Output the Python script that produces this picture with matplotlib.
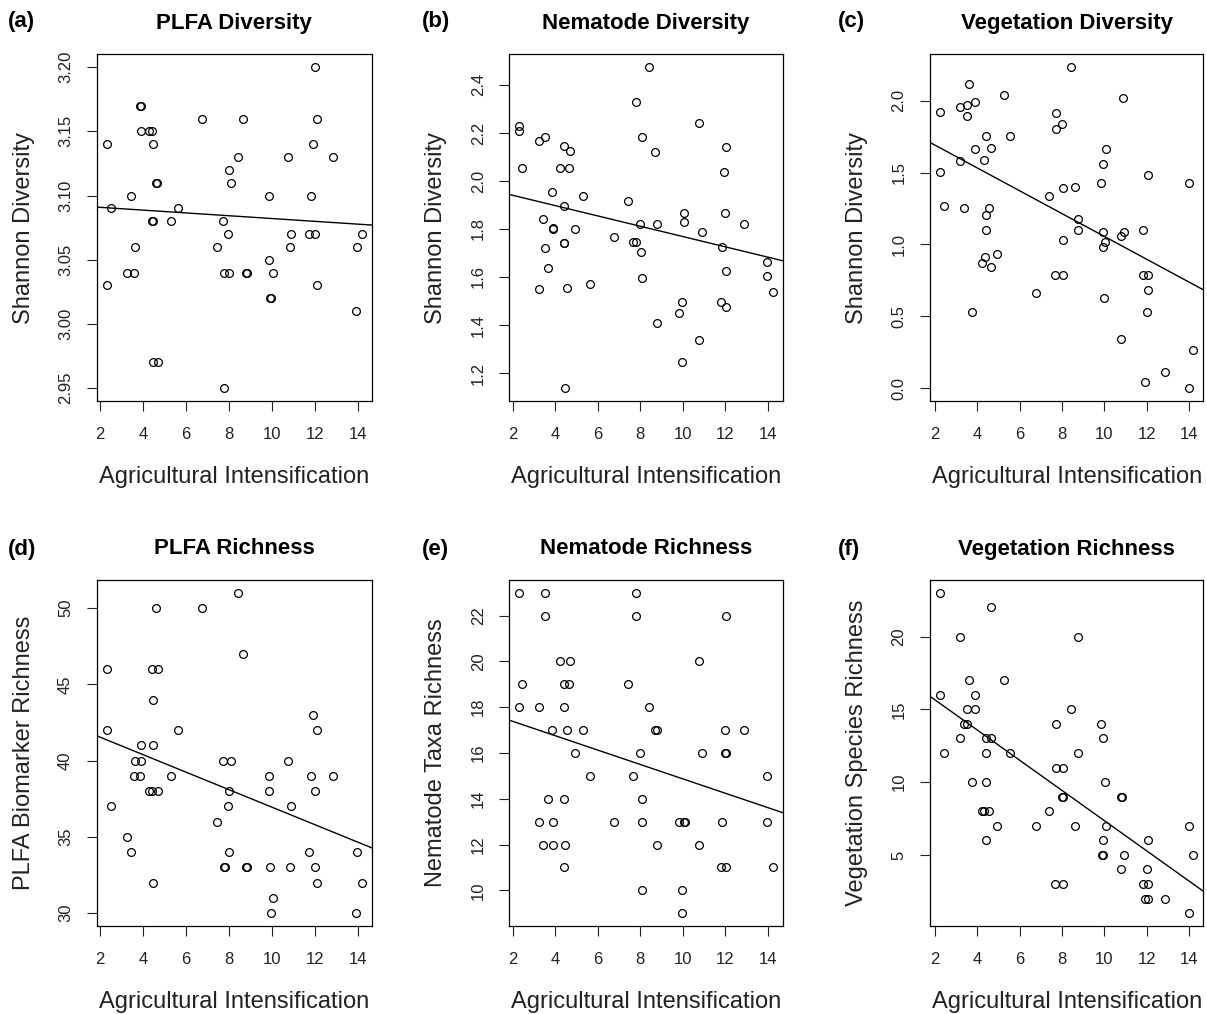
import matplotlib
matplotlib.use("Agg")
import matplotlib.pyplot as plt

plt.rcParams['font.family'] = ['Liberation Sans', 'DejaVu Sans']

# (a) PLFA diversity
plfa_div_x = [2.31, 2.31, 2.52, 3.45, 3.25, 3.59, 3.64, 3.86, 3.90, 3.92, 4.27, 4.42, 4.47,
              4.40, 4.44, 4.61, 4.65, 4.45, 4.67, 5.30, 5.63, 6.75, 7.45, 7.70, 7.78, 8.02,
              7.78, 7.95, 8.02, 8.09, 8.41, 8.66, 8.78, 8.82, 9.86, 9.86, 9.93, 9.95, 10.06,
              10.77, 10.83, 10.89, 11.75, 11.84, 11.91, 12.02, 12.02, 12.08, 12.08, 12.83,
              13.92, 13.98, 14.19]
plfa_div_y = [3.14, 3.03, 3.09, 3.10, 3.04, 3.04, 3.06, 3.17, 3.17, 3.15, 3.15, 3.15, 3.14,
              3.08, 3.08, 3.11, 3.11, 2.97, 2.97, 3.08, 3.09, 3.16, 3.06, 3.08, 3.04, 3.04,
              2.95, 3.07, 3.12, 3.11, 3.13, 3.16, 3.04, 3.04, 3.10, 3.05, 3.02, 3.02, 3.04,
              3.13, 3.06, 3.07, 3.07, 3.10, 3.14, 3.20, 3.07, 3.16, 3.03, 3.13,
              3.01, 3.06, 3.07]

# (b) nematode diversity
nem_div_x = [2.31, 2.31, 2.44, 3.21, 3.52, 3.21, 3.40, 3.52, 3.65, 3.84, 3.88, 3.89, 4.21,
             4.40, 4.67, 4.65, 4.42, 4.41, 4.43, 4.54, 4.47, 4.94, 5.30, 5.63, 6.76, 7.40,
             7.65, 7.81, 7.80, 7.98, 8.05, 8.06, 8.06, 8.42, 8.68, 8.80, 8.80, 9.84, 9.96,
             9.96, 10.07, 10.07, 10.78, 10.78, 10.91, 11.82, 11.85, 11.93, 12.00, 12.05,
             12.05, 12.05, 12.88, 13.95, 13.95, 14.24]
nem_div_y = [2.230, 2.206, 2.052, 2.168, 2.181, 1.551, 1.840, 1.719, 1.638, 1.956, 1.806, 1.800,
             2.052, 2.147, 2.126, 2.052, 1.896, 1.740, 1.740, 1.555, 1.137, 1.801, 1.936, 1.569,
             1.768, 1.917, 1.746, 1.746, 2.330, 1.822, 1.705, 2.181, 1.597, 2.474, 2.119,
             1.822, 1.409, 1.448, 1.495, 1.244, 1.868, 1.829, 2.241, 1.339, 1.789, 1.495,
             1.726, 2.038, 1.868, 2.140, 1.625, 1.476, 1.822, 1.664, 1.604, 1.537]

# (c) vegetation diversity
veg_div_x = [2.24, 2.24, 2.43, 3.18, 3.18, 3.39, 3.50, 3.50, 3.59, 3.76, 3.89, 3.89, 4.20,
             4.33, 4.36, 4.39, 4.39, 4.39, 4.54, 4.66, 4.66, 4.93, 5.24, 5.56, 6.77, 7.40,
             7.72, 7.72, 7.67, 8.00, 8.05, 8.05, 8.06, 8.44, 8.61, 8.76, 8.76, 9.84, 9.91,
             9.91, 9.95, 10.02, 9.97, 10.09, 10.79, 10.90, 10.87, 10.79, 11.81, 11.81, 11.91,
             12.08, 12.08, 12.08, 12.02, 12.85, 14.00, 14.00, 14.19]
veg_div_y = [1.923, 1.503, 1.266, 1.958, 1.580, 1.254, 1.970, 1.890, 2.117, 0.527, 1.993, 1.662,
             0.869, 1.585, 0.911, 1.755, 1.207, 1.098, 1.254, 1.674, 0.846, 0.935, 2.037, 1.755,
             0.664, 1.336, 1.914, 1.802, 0.788, 1.835, 1.389, 1.028, 0.788, 2.233, 1.401,
             1.177, 1.098, 1.424, 1.559, 1.086, 0.981, 1.016, 0.629, 1.662, 1.061, 1.086,
             2.016, 0.345, 1.098, 0.788, 0.040, 1.480, 0.788, 0.685, 0.527, 0.110, 1.424,
             0.0, 0.266]

# (d) PLFA richness
plfa_rich_x = [2.31, 2.31, 2.52, 3.27, 3.45, 3.59, 3.64, 3.84, 3.92, 3.92, 4.27, 4.42, 4.67,
               4.42, 4.69, 4.47, 4.47, 4.59, 4.47, 5.30, 5.63, 6.75, 7.45, 7.70, 7.76, 7.80,
               8.02, 7.95, 8.02, 8.09, 8.41, 8.66, 8.78, 8.82, 9.86, 9.86, 9.92, 9.94, 10.06,
               10.77, 10.83, 10.89, 11.75, 11.84, 11.91, 12.02, 12.02, 12.08, 12.08, 12.83,
               13.92, 13.98, 14.19]
plfa_rich_y = [46, 42, 37, 35, 34, 39, 40, 39, 40, 41, 38, 38, 38,
               46, 46, 44, 41, 50, 32, 39, 42, 50, 36, 40, 33, 33,
               34, 37, 38, 40, 51, 47, 33, 33, 39, 38, 33, 30, 31,
               40, 33, 37, 34, 39, 43, 38, 33, 42, 32, 39,
               30, 34, 32]

# (e) nematode richness
nem_rich_x = [2.31, 2.31, 2.44, 3.21, 3.21, 3.40, 3.52, 3.52, 3.65, 3.84, 3.88, 3.88, 4.21,
              4.40, 4.67, 4.65, 4.42, 4.42, 4.47, 4.42, 4.54, 4.94, 5.30, 5.63, 6.76, 7.40,
              7.65, 7.80, 7.80, 7.98, 8.06, 8.06, 8.06, 8.42, 8.68, 8.80, 8.80, 9.84, 9.96,
              9.96, 10.05, 10.09, 10.78, 10.78, 10.91, 11.82, 11.85, 12.00, 12.00, 12.05,
              12.05, 12.05, 12.88, 13.95, 13.95, 14.24]
nem_rich_y = [23, 18, 19, 18, 13, 12, 23, 22, 14, 17, 13, 12, 20,
              19, 20, 19, 18, 14, 12, 11, 17, 16, 17, 15, 13, 19,
              15, 23, 22, 16, 14, 13, 10, 18, 17, 17, 12, 13, 10,
              9, 13, 13, 20, 12, 16, 11, 13, 17, 16, 16,
              22, 11, 17, 15, 13, 11]

# (f) vegetation richness
veg_rich_x = [2.24, 2.24, 2.43, 3.18, 3.18, 3.39, 3.50, 3.50, 3.59, 3.76, 3.89, 3.89, 4.20,
              4.33, 4.54, 4.39, 4.39, 4.39, 4.39, 4.66, 4.66, 4.93, 5.24, 5.56, 6.77, 7.40,
              7.72, 7.72, 7.67, 7.98, 8.02, 8.05, 8.06, 8.44, 8.61, 8.76, 8.76, 9.84, 9.91,
              9.90, 9.93, 9.95, 10.02, 10.09, 10.77, 10.81, 10.90, 10.79, 11.81, 11.91, 12.08,
              12.08, 12.02, 12.08, 12.85, 14.00, 14.00, 14.19]
veg_rich_y = [23, 16, 12, 20, 13, 14, 15, 14, 17, 10, 16, 15, 8,
              8, 8, 13, 12, 10, 6, 13, 22, 7, 17, 12, 7, 8,
              14, 11, 3, 9, 9, 11, 3, 15, 7, 20, 12, 14, 13,
              5, 5, 6, 10, 7, 9, 9, 5, 4, 3, 2, 6,
              3, 4, 2, 2, 7, 1, 5]

# fitted lines (intercept, slope)
fit_plfa_div = (3.093, -0.00109)
fit_nem_div = (1.983, -0.02145)
fit_veg_div = (1.849, -0.0794)
fit_plfa_rich = (42.68, -0.573)
fit_nem_rich = (18.01, -0.314)
fit_veg_rich = (17.72, -1.037)

x_ticks = [2, 4, 6, 8, 10, 12, 14]
plfa_div_ticks = [2.95, 3.00, 3.05, 3.10, 3.15, 3.20]
nem_div_ticks = [1.2, 1.4, 1.6, 1.8, 2.0, 2.2, 2.4]
veg_div_ticks = [0.0, 0.5, 1.0, 1.5, 2.0]
plfa_rich_ticks = [30, 35, 40, 45, 50]
nem_rich_ticks = [10, 12, 14, 16, 18, 20, 22]
veg_rich_ticks = [5, 10, 15, 20]

W, H = 1207, 1014
fig = plt.figure(figsize=(W / 100, H / 100), dpi=100)


def r_lim(vals):
    lo, hi = min(vals), max(vals)
    d = (hi - lo) * 0.04
    return lo - d, hi + d


def panel(box, letter, title, ylabel, xs, ys, fit, yticks, yfmt):
    left, top, right, bottom = box
    ax = fig.add_axes([left / W, 1 - bottom / H, (right - left) / W, (bottom - top) / H])
    ax.plot(xs, ys, 'o', mfc='none', mec='black', ms=5.6, mew=0.9, ls='none')
    ax.axline((0, fit[0]), slope=fit[1], color='black', lw=1.0)
    ax.set_xlim(r_lim(xs))
    ax.set_ylim(r_lim(ys))
    ax.set_xticks(x_ticks)
    ax.set_yticks(yticks)
    ax.set_yticklabels([yfmt.format(v) for v in yticks], rotation=90, va='center')
    ax.tick_params(direction='out', length=7, width=0.8, labelsize=12, pad=10, colors='#222222')
    ax.tick_params(axis='x', pad=12)
    for s in ax.spines.values():
        s.set_linewidth(0.9)
    ax.annotate('Agricultural Intensification', xy=(0.5, 0), xycoords='axes fraction',
                xytext=(0, -76 * 0.72), textcoords='offset points',
                ha='center', va='center', fontsize=17, color='#222222')
    ax.annotate(ylabel, xy=(0, 0.5), xycoords='axes fraction',
                xytext=(-73 * 0.72, 0), textcoords='offset points',
                ha='center', va='center', rotation=90, fontsize=17, color='#222222')
    ax.annotate(title, xy=(0.5, 1), xycoords='axes fraction',
                xytext=(0, 31 * 0.72), textcoords='offset points',
                ha='center', va='center', fontsize=16, fontweight='bold')
    fig.text(letter[1] / W, 1 - letter[2] / H, letter[0], ha='left', va='center',
             fontsize=16, fontweight='bold')
    return ax


panel((96.7, 54.3, 372, 401), ('(a)', 8, 22), 'PLFA Diversity', 'Shannon Diversity',
      plfa_div_x, plfa_div_y, fit_plfa_div, plfa_div_ticks, '{:.2f}')
panel((509.3, 54.3, 783, 401), ('(b)', 422, 22), 'Nematode Diversity', 'Shannon Diversity',
      nem_div_x, nem_div_y, fit_nem_div, nem_div_ticks, '{:.1f}')
panel((930, 54.3, 1203.3, 401), ('(c)', 838, 22), 'Vegetation Diversity', 'Shannon Diversity',
      veg_div_x, veg_div_y, fit_veg_div, veg_div_ticks, '{:.1f}')
panel((96.7, 580, 372, 926), ('(d)', 8, 550), 'PLFA Richness', 'PLFA Biomarker Richness',
      plfa_rich_x, plfa_rich_y, fit_plfa_rich, plfa_rich_ticks, '{:d}')
panel((509.3, 580, 783, 926), ('(e)', 422, 550), 'Nematode Richness', 'Nematode Taxa Richness',
      nem_rich_x, nem_rich_y, fit_nem_rich, nem_rich_ticks, '{:d}')
panel((930, 580, 1203.3, 926), ('(f)', 838, 550), 'Vegetation Richness', 'Vegetation Species Richness',
      veg_rich_x, veg_rich_y, fit_veg_rich, veg_rich_ticks, '{:d}')

fig.savefig('out.png', dpi=100, facecolor='white')
